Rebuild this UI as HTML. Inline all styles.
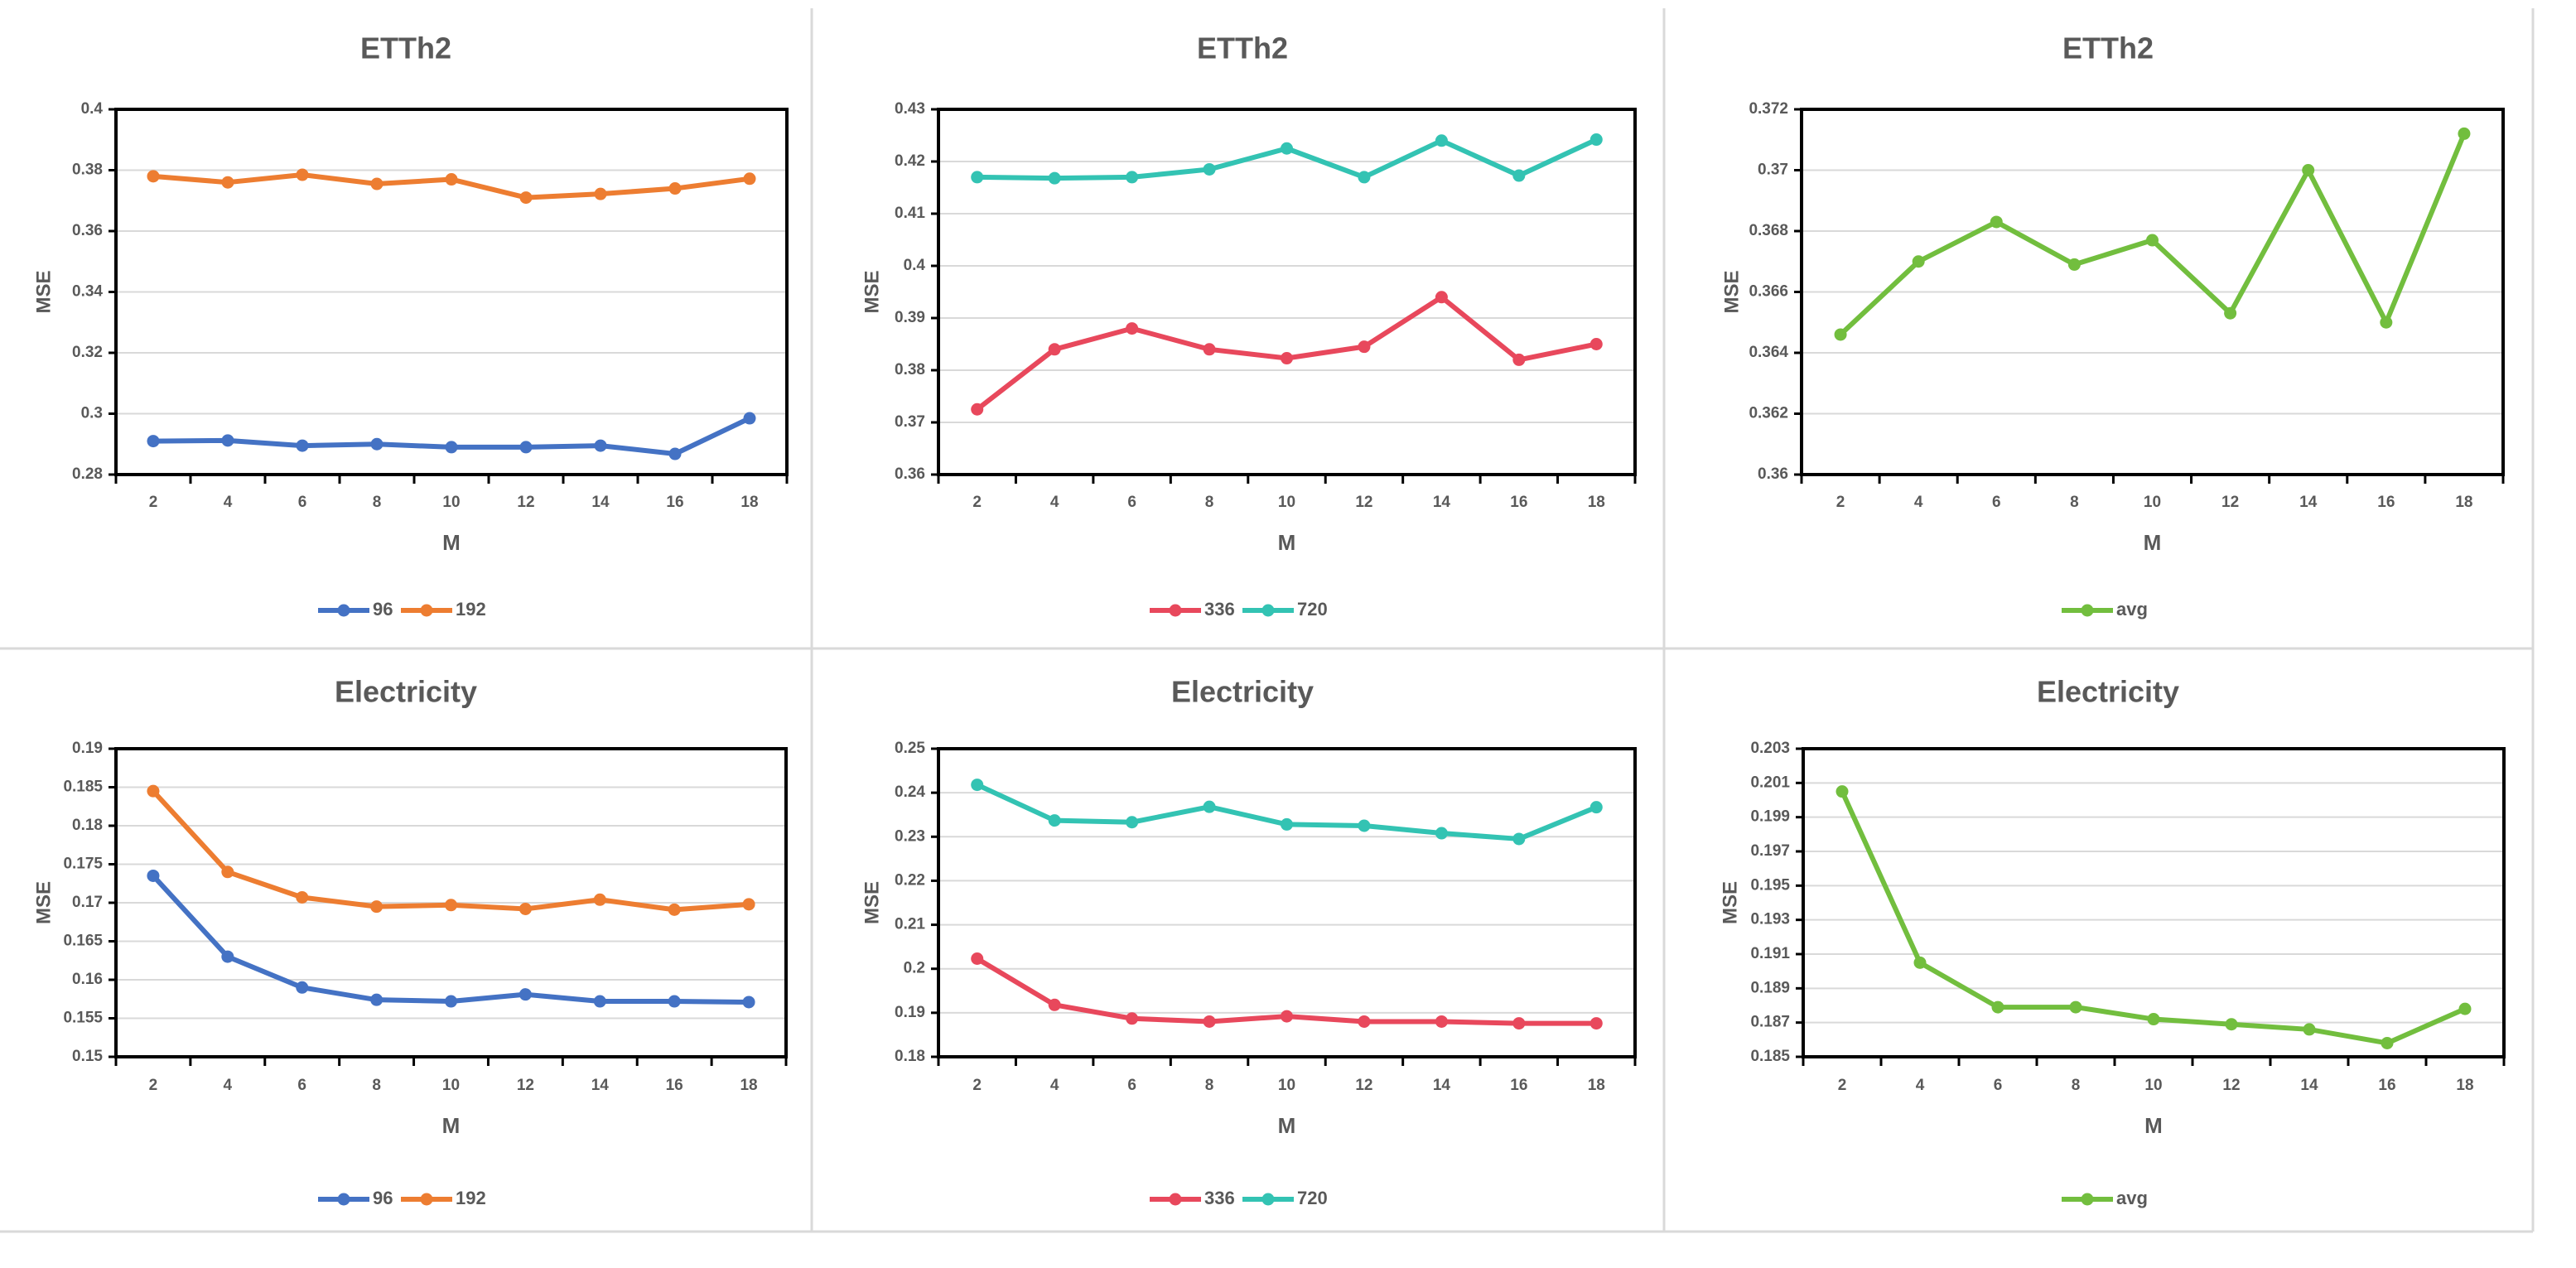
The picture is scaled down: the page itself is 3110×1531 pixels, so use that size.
<!DOCTYPE html>
<html><head><meta charset="utf-8">
<style>
html,body{margin:0;padding:0;background:#fff;}
svg{display:block;}
text{font-family:"Liberation Sans",Arial,sans-serif;fill:#595959;font-weight:bold;}
</style></head>
<body>
<svg id="chart" width="3110" height="1531" viewBox="0 0 3110 1531" xmlns="http://www.w3.org/2000/svg">
<rect x="0" y="0" width="3110" height="1531" fill="#fff"/>
<g id="frame" stroke="#d9d9d9" stroke-width="3" fill="none">
<line x1="980" y1="10" x2="980" y2="1487"/>
<line x1="2009" y1="10" x2="2009" y2="1487"/>
<line x1="0" y1="783" x2="3058" y2="783"/>
<line x1="0" y1="1487" x2="3058" y2="1487"/>
<line x1="3058" y1="10" x2="3058" y2="1487"/>
</g>
</svg>
<script>
const categories = ["2","4","6","8","10","12","14","16","18"];
const ettTL_96 = [0.291,0.2912,0.2895,0.290,0.289,0.289,0.2895,0.2868,0.2985];
const ettTL_192 = [0.378,0.376,0.3785,0.3755,0.377,0.371,0.3722,0.374,0.3772];
const ettTL_ticks = ["0.28","0.3","0.32","0.34","0.36","0.38","0.4"];
const ettTM_336 = [0.3725,0.384,0.388,0.384,0.3823,0.3845,0.394,0.382,0.385];
const ettTM_720 = [0.417,0.4168,0.417,0.4185,0.4225,0.417,0.424,0.4173,0.4242];
const ettTM_ticks = ["0.36","0.37","0.38","0.39","0.4","0.41","0.42","0.43"];
const ettTR_avg = [0.3646,0.367,0.3683,0.3669,0.3677,0.3653,0.37,0.365,0.3712];
const ettTR_ticks = ["0.36","0.362","0.364","0.366","0.368","0.37","0.372"];
const elecBL_96 = [0.1735,0.163,0.159,0.1574,0.1572,0.1581,0.1572,0.1572,0.1571];
const elecBL_192 = [0.1845,0.174,0.1707,0.1695,0.1697,0.1692,0.1704,0.1691,0.1698];
const elecBL_ticks = ["0.15","0.155","0.16","0.165","0.17","0.175","0.18","0.185","0.19"];
const elecBM_336 = [0.2023,0.1918,0.1887,0.188,0.1892,0.188,0.188,0.1876,0.1876];
const elecBM_720 = [0.2418,0.2337,0.2333,0.2368,0.2328,0.2325,0.2308,0.2295,0.2367];
const elecBM_ticks = ["0.18","0.19","0.2","0.21","0.22","0.23","0.24","0.25"];
const elecBR_avg = [0.2005,0.1905,0.1879,0.1879,0.1872,0.1869,0.1866,0.1858,0.1878];
const elecBR_ticks = ["0.185","0.187","0.189","0.191","0.193","0.195","0.197","0.199","0.201","0.203"];

const C = {blue:"#4472C4",orange:"#ED7D31",red:"#E8485C",teal:"#33C3B3",green:"#72BE3E"};
const NS = "http://www.w3.org/2000/svg";
const svg = document.getElementById('chart');
function mk(tag, attrs, parent){
  const e = document.createElementNS(NS, tag);
  for (const k in attrs) e.setAttribute(k, attrs[k]);
  (parent||svg).appendChild(e);
  return e;
}

function panel(cfg){
  const g = mk('g', {});
  
  
  const {L,R,T,B} = cfg;
  const tv = cfg.ticks.map(Number);
  const ymin = tv[0], ymax = tv[tv.length-1];
  const yS = v => B - (v - ymin) / (ymax - ymin) * (B - T);
  const cw = (R - L) / categories.length;
  const xS = i => L + cw * (i + 0.5);
  const t = mk('text', {x: cfg.cx, y: cfg.titleY, 'text-anchor':'middle', 'font-size':36, 'dominant-baseline':'middle'}, g);
  t.textContent = cfg.title;
  
  
  cfg.ticks.forEach((lab, i) => {
    const y = yS(tv[i]);
    if (i > 0 && i < tv.length-1) {
      const gl = mk('line', {x1:L, x2:R, y1:y, y2:y, stroke:'#d9d9d9', 'stroke-width':2}, g);
      
      
    }
    mk('line', {x1:L-9, x2:L, y1:y, y2:y, stroke:'#000', 'stroke-width':3}, g);
    const tx = mk('text', {x:L-16, y:y, 'text-anchor':'end', 'dominant-baseline':'middle', 'font-size':19}, g);
    tx.textContent = lab;
    
    
  });
  for (let i = 0; i <= categories.length; i++) {
    const x = L + cw * i;
    mk('line', {x1:x, x2:x, y1:B, y2:B+11, stroke:'#000', 'stroke-width':3}, g);
  }
  categories.forEach((c, i) => {
    const tx = mk('text', {x:xS(i), y:cfg.tickY, 'text-anchor':'middle', 'dominant-baseline':'middle', 'font-size':19}, g);
    tx.textContent = c;
    
    
  });
  const box = mk('rect', {x:L, y:T, width:R-L, height:B-T, fill:'none', stroke:'#000', 'stroke-width':4}, g);
  
  
  const xt = mk('text', {x:(L+R)/2, y:cfg.tickY+50, 'text-anchor':'middle', 'dominant-baseline':'middle', 'font-size':26}, g);
  xt.textContent = 'M';
  
  
  const yt = mk('text', {x:0, y:0, 'text-anchor':'middle', 'dominant-baseline':'middle', 'font-size':24, transform:`translate(${cfg.yTitleX},${(T+B)/2}) rotate(-90)`}, g);
  yt.textContent = 'MSE';
  
  
  cfg.series.forEach(s => {
    const pts = s.values.map((v, i) => xS(i) + ',' + yS(v)).join(' ');
    const pl = mk('polyline', {points:pts, fill:'none', stroke:s.color, 'stroke-width':6, 'stroke-linejoin':'round'}, g);
    
    
    s.values.forEach((v, i) => {
      const cc = mk('circle', {cx:xS(i), cy:yS(v), r:7.5, fill:s.color}, g);
      
      
    });
  });
  // legend
  const itemW = s => 70 + 12 * s.label.length + 6;
  const total = cfg.series.reduce((a, s) => a + itemW(s), 0);
  let lx = cfg.cx - total / 2;
  cfg.series.forEach(s => {
    const lg = mk('g', {}, g);
    
    
    mk('line', {x1:lx, x2:lx+62, y1:cfg.legY, y2:cfg.legY, stroke:s.color, 'stroke-width':6}, lg);
    mk('circle', {cx:lx+31, cy:cfg.legY, r:7.5, fill:s.color}, lg);
    const lt = mk('text', {x:lx+66, y:cfg.legY, 'dominant-baseline':'middle', 'font-size':22}, lg);
    lt.textContent = s.label;
    lx += itemW(s);
  });
}

panel({name:'etth2-96-192-panel', title:'ETTh2', cx:490, titleY:61, L:140, R:950, T:132, B:573, tickY:607, legY:737, yTitleX:54, ticks:ettTL_ticks,
  series:[{label:'96', values:ettTL_96, color:C.blue},{label:'192', values:ettTL_192, color:C.orange}]});
panel({name:'etth2-336-720-panel', title:'ETTh2', cx:1500, titleY:61, L:1133, R:1974, T:132, B:573, tickY:607, legY:737, yTitleX:1054, ticks:ettTM_ticks,
  series:[{label:'336', values:ettTM_336, color:C.red},{label:'720', values:ettTM_720, color:C.teal}]});
panel({name:'etth2-avg-panel', title:'ETTh2', cx:2545, titleY:61, L:2175, R:3022, T:132, B:573, tickY:607, legY:737, yTitleX:2092, ticks:ettTR_ticks,
  series:[{label:'avg', values:ettTR_avg, color:C.green}]});
panel({name:'electricity-96-192-panel', title:'Electricity', cx:490, titleY:838, L:140, R:949, T:904, B:1276, tickY:1311, legY:1448, yTitleX:54, ticks:elecBL_ticks,
  series:[{label:'96', values:elecBL_96, color:C.blue},{label:'192', values:elecBL_192, color:C.orange}]});
panel({name:'electricity-336-720-panel', title:'Electricity', cx:1500, titleY:838, L:1133, R:1974, T:904, B:1276, tickY:1311, legY:1448, yTitleX:1054, ticks:elecBM_ticks,
  series:[{label:'336', values:elecBM_336, color:C.red},{label:'720', values:elecBM_720, color:C.teal}]});
panel({name:'electricity-avg-panel', title:'Electricity', cx:2545, titleY:838, L:2177, R:3023, T:904, B:1276, tickY:1311, legY:1448, yTitleX:2090, ticks:elecBR_ticks,
  series:[{label:'avg', values:elecBR_avg, color:C.green}]});
</script>
</body></html>
